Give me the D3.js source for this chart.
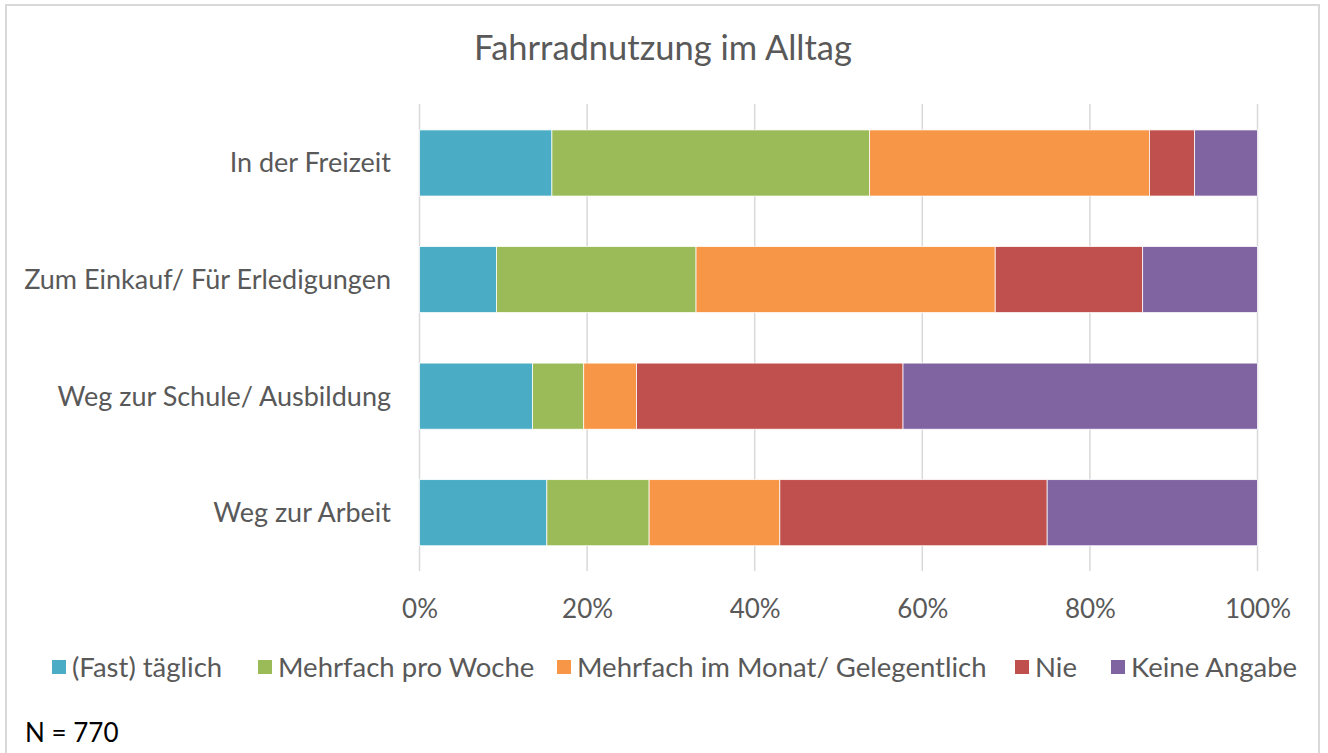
<!DOCTYPE html>
<html>
<head>
<meta charset="utf-8">
<script src="https://cdn.jsdelivr.net/npm/d3@7"></script>
<style>
  html, body { margin: 0; padding: 0; background: #fff; }
  svg { display: block; font-family: "Lato", "Open Sans", sans-serif; }
</style>
</head>
<body>
<svg id="chart" width="1328" height="753"></svg>
<script>
const title = "Fahrradnutzung im Alltag";
const categories = ["In der Freizeit", "Zum Einkauf/ Für Erledigungen", "Weg zur Schule/ Ausbildung", "Weg zur Arbeit"];
const seriesNames = ["(Fast) täglich", "Mehrfach pro Woche", "Mehrfach im Monat/ Gelegentlich", "Nie", "Keine Angabe"];
const seriesColors = ["#4BACC6", "#9BBB59", "#F79646", "#C0504D", "#8064A2"];
const fastTaeglich   = [15.8,  9.2, 13.5, 15.2];
const mehrfachWoche  = [37.9, 23.8,  6.1, 12.2];
const mehrfachMonat  = [33.4, 35.7,  6.3, 15.6];
const nie            = [ 5.4, 17.6, 31.8, 31.9];
const keineAngabe    = [ 7.5, 13.7, 42.3, 25.1];
const xTicks = [0, 0.2, 0.4, 0.6, 0.8, 1.0];
const note = "N = 770";

const seriesValues = [fastTaeglich, mehrfachWoche, mehrfachMonat, nie, keineAngabe];
const rows = categories.map((c, i) => {
  const r = { category: c };
  seriesNames.forEach((s, j) => r[s] = seriesValues[j][i]);
  return r;
});
// normalise to 100%
const stack = d3.stack().keys(seriesNames).offset(d3.stackOffsetExpand);
const stacked = stack(rows);

const svg = d3.select("#chart");

// chart border
svg.append("rect").attr("x", 6).attr("y", 5).attr("width", 1313).attr("height", 760)
  .attr("fill", "#fff").attr("stroke", "#d9d9d9").attr("stroke-width", 2);

const x = d3.scaleLinear().domain([0, 1]).range([419.5, 1257.5]);
const y = d3.scaleBand().domain(categories).range([104.7, 571]).paddingInner(0.433).paddingOuter(0.2165);

// gridlines
svg.append("g").selectAll("line").data(xTicks).join("line")
  .attr("x1", d => x(d)).attr("x2", d => x(d))
  .attr("y1", 104).attr("y2", 571)
  .attr("stroke", "#d9d9d9").attr("stroke-width", 1.5);

// bars
svg.append("g").selectAll("g").data(stacked).join("g")
  .attr("fill", (d, i) => seriesColors[i])
  .selectAll("rect").data(d => d).join("rect")
  .attr("x", d => x(d[0]))
  .attr("width", d => x(d[1]) - x(d[0]))
  .attr("y", d => y(d.data.category))
  .attr("height", y.bandwidth())
  .attr("stroke", "#fff").attr("stroke-width", 0.75);

// x axis labels
const xAxis = d3.axisBottom(x).tickValues(xTicks).tickFormat(d3.format(".0%")).tickSize(0).tickPadding(0);
const gx = svg.append("g").attr("transform", "translate(0,600)").call(xAxis);
gx.select(".domain").remove();
gx.selectAll("text").attr("font-size", 26).attr("fill", "#595959").attr("font-family", "Lato, sans-serif");

// y axis labels
const yAxis = d3.axisLeft(y).tickSize(0).tickPadding(0);
const gy = svg.append("g").attr("transform", "translate(391,0)").call(yAxis);
gy.select(".domain").remove();
gy.selectAll("text").attr("font-size", 27).attr("fill", "#595959").attr("font-family", "Lato, sans-serif").attr("dy", "0.35em");

// title
svg.append("text").attr("x", 663).attr("y", 60).attr("text-anchor", "middle")
  .attr("font-size", 34.5).attr("fill", "#595959").text(title);

// legend
const legendX = [52, 258, 557, 1015, 1111];
const lg = svg.append("g").selectAll("g").data(seriesNames).join("g")
  .attr("transform", (d, i) => `translate(${legendX[i]},667)`);
lg.append("rect").attr("x", 0).attr("y", -7).attr("width", 14).attr("height", 14)
  .attr("fill", (d, i) => seriesColors[i]);
lg.append("text").attr("x", 20).attr("y", 0).attr("dy", "0.35em")
  .attr("font-size", 27.5).attr("fill", "#595959").text(d => d);

// note
svg.append("text").attr("x", 25).attr("y", 742).attr("font-size", 26).attr("fill", "#000").text(note);
</script>
</body>
</html>
